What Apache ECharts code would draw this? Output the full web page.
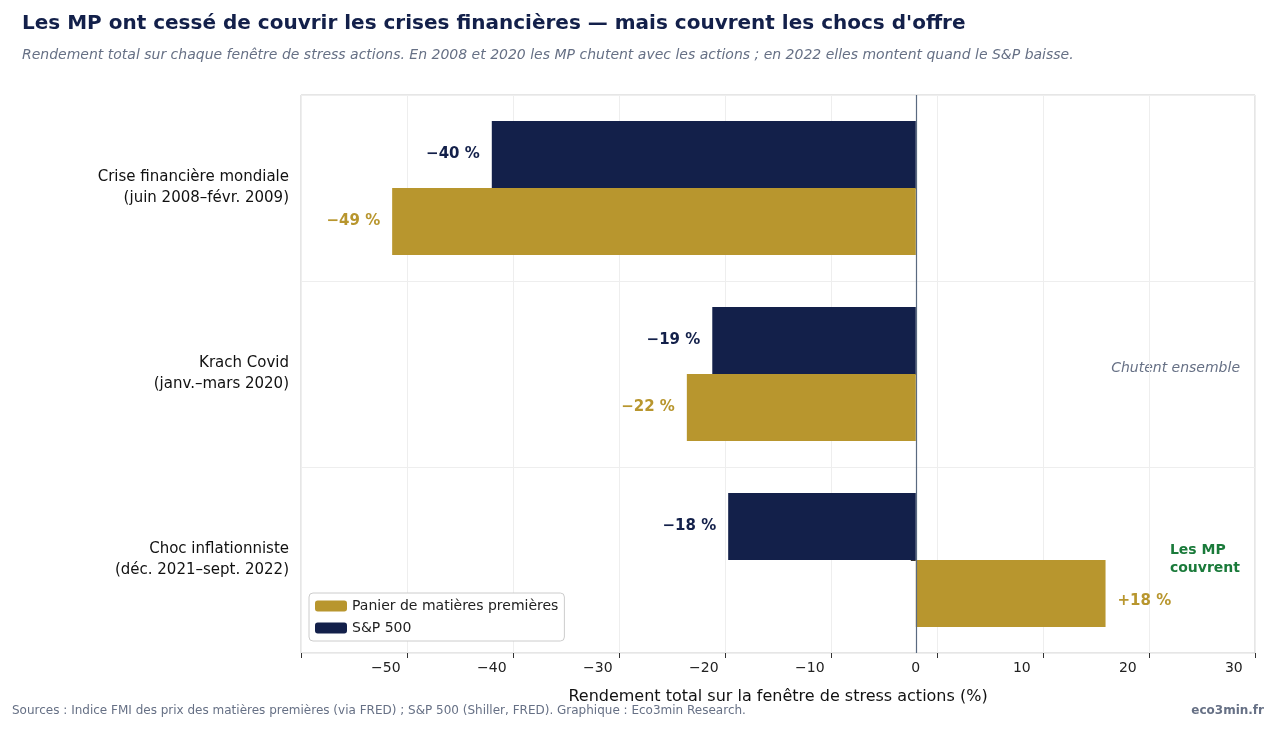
<!DOCTYPE html>
<html><head><meta charset="utf-8">
<script src="https://cdn.jsdelivr.net/npm/echarts@6/dist/echarts.min.js"></script>
<style>html,body{margin:0;padding:0;background:#fff}#c{width:1275px;height:731px}</style>
</head><body><div id="c"></div>
<script>
var categories = ['Crise financière mondiale\n(juin 2008–févr. 2009)', 'Krach Covid\n(janv.–mars 2020)', 'Choc inflationniste\n(déc. 2021–sept. 2022)'];
var spValues = [-40.0, -19.2, -17.7];
var mpValues = [-49.4, -21.6, 17.9];
var spLabels = ['−40 %', '−19 %', '−18 %'];
var mpLabels = ['−49 %', '−22 %', '+18 %'];

var chart = echarts.init(document.getElementById('c'));
var font = 'DejaVu Sans';

chart.setOption({
    animation: false,
    textStyle: { fontFamily: font },
    title: [{
        text: "Les MP ont cessé de couvrir les crises financières — mais couvrent les chocs d'offre",
        left: 17, top: 9,
        textStyle: { fontSize: 20, fontWeight: 'bold', color: '#13204a', fontFamily: font },
        subtext: 'Rendement total sur chaque fenêtre de stress actions. En 2008 et 2020 les MP chutent avec les actions ; en 2022 elles montent quand le S&P baisse.',
        subtextStyle: { fontSize: 14, fontStyle: 'italic', color: '#667085', fontFamily: font },
        itemGap: 14
    }],
    grid: { left: 301, right: 20, top: 95, bottom: 78, show: true, borderColor: '#cccccc', borderWidth: 1 },
    legend: {
        orient: 'vertical', left: 309, top: 593,
        data: ['Panier de matières premières', 'S&P 500'],
        backgroundColor: '#fff', borderColor: '#cccccc', borderWidth: 1, borderRadius: 4,
        padding: [6, 6], itemWidth: 32, itemHeight: 11, itemGap: 8,
        textStyle: { fontSize: 14, color: '#222' }
    },
    xAxis: {
        type: 'value', min: -58, max: 32, interval: 10,
        name: 'Rendement total sur la fenêtre de stress actions (%)',
        nameLocation: 'middle', nameGap: 36, nameTextStyle: { fontSize: 16, color: '#111' },
        axisLine: { show: false },
        axisTick: { show: true, lineStyle: { color: '#333' } },
        axisLabel: { fontSize: 14, color: '#222', formatter: function (v) { return v < 0 ? '−' + Math.abs(v) : String(v); },
            customValues: [-50, -40, -30, -20, -10, 0, 10, 20, 30] },
        splitLine: { lineStyle: { color: '#eeeeee' } }
    },
    yAxis: {
        type: 'category', data: categories, inverse: true,
        axisLine: { show: false },
        axisTick: { show: true, alignWithLabel: true, length: 5, lineStyle: { color: '#333' } },
        axisLabel: { fontSize: 15, color: '#111', lineHeight: 21, margin: 12 },
        splitLine: { show: true, interval: 0, lineStyle: { color: '#eeeeee' } }
    },
    series: [{
        name: 'S&P 500', type: 'bar', data: spValues,
        barWidth: 67, barGap: '0%', barCategoryGap: '28%',
        itemStyle: { color: '#13204a' },
        label: { show: true, position: 'left', distance: 12, fontSize: 15, fontWeight: 'bold', color: '#13204a',
            formatter: function (p) { return spLabels[p.dataIndex]; } },
        markLine: { silent: true, symbol: 'none', label: { show: false },
            lineStyle: { color: '#5a6a80', type: 'solid', width: 1.2 }, data: [{ xAxis: 0 }] }
    }, {
        name: 'Panier de matières premières', type: 'bar', data: mpValues,
        barWidth: 67,
        itemStyle: { color: '#b8962e' },
        label: { show: true, fontSize: 15, fontWeight: 'bold', color: '#b8962e', distance: 12,
            position: 'left',
            formatter: function (p) { return mpLabels[p.dataIndex]; } },
        labelLayout: function (p) {
            if (p.dataIndex === 2) return { x: p.rect.x + p.rect.width + 12, align: 'left' };
        }
    }],
    graphic: [
        { type: 'text', right: 35, top: 361, style: { text: 'Chutent ensemble', fontSize: 14, fontStyle: 'italic', fill: '#667085', fontFamily: font } },
        { type: 'text', right: 35, top: 541, style: { text: 'Les MP\ncouvrent', fontSize: 14, fontWeight: 'bold', fill: '#1a7a3a', align: 'right', lineHeight: 18, fontFamily: font } },
        { type: 'text', left: 12, top: 705, style: { text: 'Sources : Indice FMI des prix des matières premières (via FRED) ; S&P 500 (Shiller, FRED). Graphique : Eco3min Research.', fontSize: 12, fill: '#667085', fontFamily: font } },
        { type: 'text', right: 11, top: 705, style: { text: 'eco3min.fr', fontSize: 12, fontWeight: 'bold', fill: '#667085', fontFamily: font } }
    ]
});
</script></body></html>
